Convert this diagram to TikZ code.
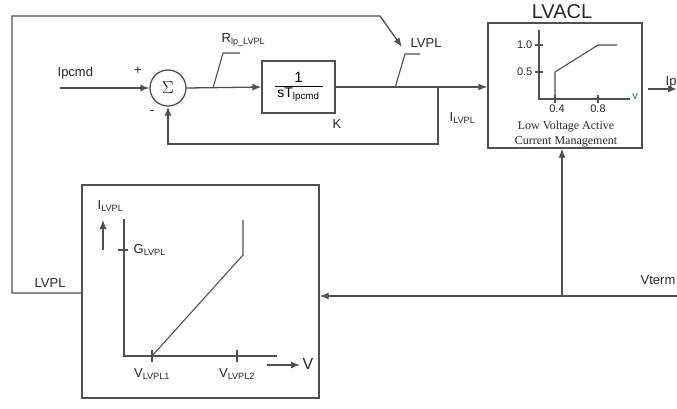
\documentclass[tikz,border=0pt]{standalone}
\usepackage{fontspec,amsmath}
\setmainfont{Liberation Sans}
\newfontfamily\serifnote{Liberation Serif}
\usetikzlibrary{arrows.meta,positioning}
\definecolor{linegray}{HTML}{505050}
\definecolor{labeltext}{HTML}{262626}
\definecolor{axisblue}{HTML}{3A5A9A}

\begin{document}
\begin{tikzpicture}[x=1pt,y=-1pt,
  line width=1.3pt,draw=linegray,
  >={Latex[length=9pt,width=7pt]},
  blockbox/.style={draw=linegray,line width=1.3pt,inner sep=0pt},
  lbl/.style={text=labeltext,inner sep=1pt,font=\fontsize{13}{15}\selectfont},
  small/.style={text=labeltext,inner sep=1pt,font=\fontsize{11}{13}\selectfont}]
\useasboundingbox (0,0) rectangle (677,408);
% main forward path
\coordinate (ipin) at (60,88);
\node[blockbox,circle,minimum size=36pt,font=\fontsize{18}{18}\selectfont] (sum) at (168,88) {$\Sigma$};
\node[blockbox,minimum width=73pt,minimum height=52pt] (intg) at (298.5,87)
  {$\displaystyle\frac{\hbox to 48pt{\hfil\fontsize{15}{15}\selectfont 1\hfil}}{\text{\fontsize{14}{14}\selectfont sT\textsubscript{lpcmd}}}$};
\node[blockbox,minimum width=154pt,minimum height=125pt] (lvacl) at (565,85.5) {};
\node[blockbox,minimum width=237pt,minimum height=213pt] (lvplbox) at (200.5,291.5) {};
\node[font=\fontsize{20}{20}\selectfont,text=labeltext,inner sep=0pt] (lvacltitle) at (562,12) {LVACL};
\coordinate (fb) at (438,88);
\coordinate (rtag) at (213,88);
\coordinate (ltag) at (395,88);
\coordinate (lvplin) at (402,47);
\coordinate (iout) at (677,89);
\coordinate (vt) at (677,296);
\coordinate (vtb) at (562,296);
\draw[->] (ipin) -- (sum.west);
\draw[->] (sum.east) -- (intg.west);
\draw[->] (intg.east) -- (lvacl.west |- intg.east);
\draw[->] (fb) -- (438,144) -| (sum.south);
\draw[->] (lvplbox.west |- 0,293) -| (12,16) -- (380,16) -- (lvplin);
\draw[->, shorten <=5pt] (lvacl.east |- iout) -- (iout);
\draw[->] (vt) -- (lvplbox.east |- vt);
\draw[->] (vtb) -- (lvacl.south -| vtb);
% tag lines
\draw[line width=1.1pt] (rtag) -- (223,53) -- (240,53);
\draw[line width=1.1pt] (ltag) -- (405,54) -- (420,54);
% labels
\node[lbl,anchor=west] (ipcmd) at (56,73) {Ipcmd};
\node[lbl] (plus) at (138,71) {+};
\node[lbl] (minus) at (152,113) {-};
\node[lbl,anchor=west] (rlbl) at (220,40) {R\textsubscript{lp\_LVPL}};
\node[lbl,anchor=west] (lvpllbl) at (409,43) {LVPL};
\node[lbl] (klbl) at (337,124) {K};
\node[lbl,anchor=west] (ilvpl) at (448,118) {I\textsubscript{LVPL}};
\node[lbl,anchor=west] (iplbl) at (664,82) {Ip};
\node[lbl,anchor=east] (vterm) at (677,280) {Vterm};
\node[lbl,anchor=west] (lvplout) at (33,283) {LVPL};
% LVACL characteristic
\draw[line width=1.1pt] (539,30) -- (539,99) -- (630,99);
\draw[line width=1.1pt] (535,45) -- (543,45) (535,72) -- (543,72);
\draw[line width=1.1pt] (555,95) -- (555,103) (598,95) -- (598,103);
\draw[line width=1.1pt] (555,99) -- (555,72) -- (598,45) -- (617,45);
\node[small,anchor=east] (tone) at (534,45) {1.0};
\node[small,anchor=east] (thalf) at (534,72) {0.5};
\node[small] (tfour) at (557,109) {0.4};
\node[small] (teight) at (598,109) {0.8};
\node[small,text=axisblue] (vax) at (635,97) {v};
\node[text=labeltext,font=\serifnote\fontsize{12}{14.5}\selectfont,align=center,inner sep=0pt] (lvacldesc) at (566,134)
  {Low Voltage Active\\Current Management};
% LVPL characteristic
\draw[line width=1.1pt] (124,219) -- (124,356) -- (277,356);
\draw[line width=1.1pt] (118,250) -- (128,250);
\draw[line width=1.1pt] (152,350) -- (152,362) (237,350) -- (237,362);
\draw[line width=1.1pt] (152,356) -- (243,255) -- (243,220);
\draw[->,line width=1.1pt] (103,250) -- (103,220);
\draw[->,line width=1.1pt] (267,365) -- (300,365);
\node[lbl,anchor=west] (iaxis) at (96,206) {I\textsubscript{LVPL}};
\node[lbl,anchor=west] (glvpl) at (132,250) {G\textsubscript{LVPL}};
\node[lbl] (v1) at (152,374) {V\textsubscript{LVPL1}};
\node[lbl] (v2) at (237,374) {V\textsubscript{LVPL2}};
\node[lbl,anchor=west,font=\fontsize{16}{16}\selectfont] (vlbl) at (301,364) {V};
\end{tikzpicture}
\end{document}
